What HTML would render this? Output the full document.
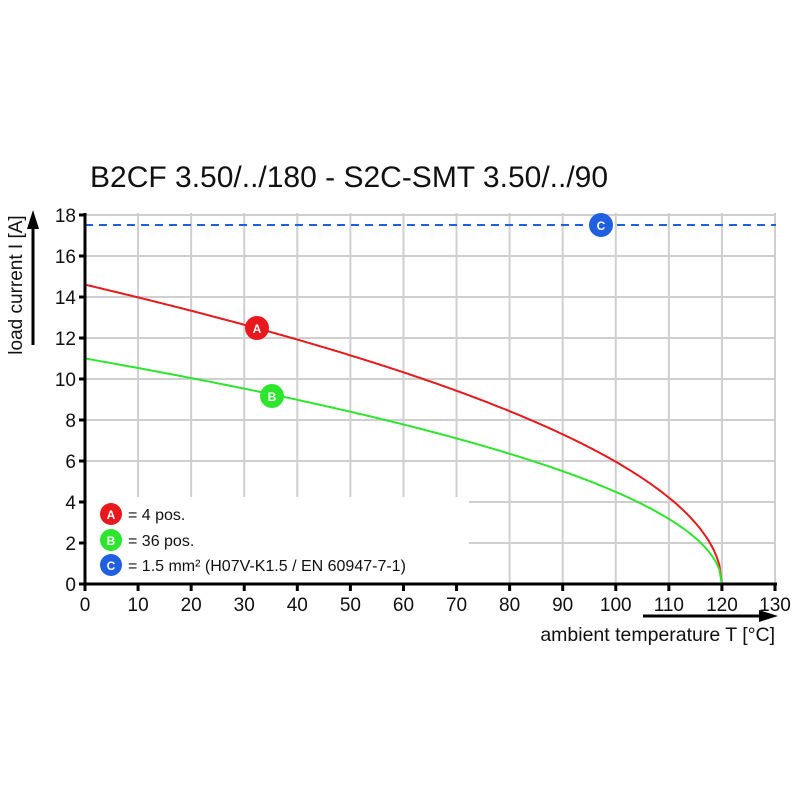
<!DOCTYPE html>
<html><head><style>body{margin:0;background:#fff}svg{display:block}text{font-family:"Liberation Sans",Arial,sans-serif}</style></head>
<body>
<svg id="s" width="800" height="800" xmlns="http://www.w3.org/2000/svg">
<rect width="800" height="800" fill="#fff"/>
<text x="90" y="187" font-size="30" fill="#111">B2CF 3.50/../180 - S2C-SMT 3.50/../90</text>
<g id="grid" stroke="#cfcfcf" stroke-width="2"></g>
<rect x="87" y="497" width="382" height="86" fill="#fff"/>
<line x1="85" y1="225" x2="776" y2="225" stroke="#1f5fe0" stroke-width="2" stroke-dasharray="8,6"/>
<path id="ra" fill="none" stroke="#e8181c" stroke-width="2"/>
<path id="gb" fill="none" stroke="#2ee52e" stroke-width="2"/>
<line x1="85" y1="213" x2="85" y2="585" stroke="#000" stroke-width="3"/>
<line x1="84" y1="584" x2="777" y2="584" stroke="#000" stroke-width="3"/>
<g id="ticks" stroke="#000" stroke-width="3"></g>
<g id="lab" font-size="19" fill="#111"></g>
<line x1="33" y1="345" x2="33" y2="226" stroke="#000" stroke-width="3"/>
<polygon points="33,210 27,229 39,229" fill="#000"/>
<text transform="translate(22,285) rotate(-90)" text-anchor="middle" font-size="19" fill="#111">load current I [A]</text>
<line x1="643" y1="616" x2="762" y2="616" stroke="#000" stroke-width="3"/>
<polygon points="778,616 759,610 759,622" fill="#000"/>
<text x="775" y="641" text-anchor="end" font-size="19.5" fill="#111">ambient temperature T [°C]</text>
<g font-size="12" font-weight="bold" fill="#fff" text-anchor="middle">
<circle cx="257" cy="328" r="12" fill="#e8181c"/><text x="257" y="333">A</text>
<circle cx="272" cy="396" r="12" fill="#2ee52e"/><text x="272" y="401">B</text>
<circle cx="601" cy="225" r="12" fill="#1f5fe0"/><text x="601" y="230">C</text>
<circle cx="111" cy="514" r="11" fill="#e8181c"/><text x="111" y="519">A</text>
<circle cx="111" cy="540" r="11" fill="#2ee52e"/><text x="111" y="545">B</text>
<circle cx="111" cy="565" r="11" fill="#1f5fe0"/><text x="111" y="570">C</text>
</g>
<g font-size="16" fill="#111">
<text x="128" y="520">= 4 pos.</text>
<text x="128" y="546">= 36 pos.</text>
<text x="128" y="571">= 1.5 mm² (H07V-K1.5 / EN 60947-7-1)</text>
</g>
</svg>
<script>
var X=t=>85+t*690/130,Y=v=>584-v*20.5,NS="http://www.w3.org/2000/svg";
function el(p,n,a,t){var e=document.createElementNS(NS,n);for(var k in a)e.setAttribute(k,a[k]);if(t!=null)e.textContent=t;document.getElementById(p).appendChild(e);}
for(var i=1;i<=13;i++)el("grid","line",{x1:X(i*10),y1:213,x2:X(i*10),y2:584});
for(var j=1;j<=9;j++)el("grid","line",{x1:85,y1:Y(j*2),x2:776,y2:Y(j*2)});
for(var i=0;i<=13;i++){el("ticks","line",{x1:X(i*10),y1:584,x2:X(i*10),y2:591});el("lab","text",{x:X(i*10),y:611,"text-anchor":"middle"},i*10);}
for(var j=0;j<=9;j++){el("ticks","line",{x1:79,y1:Y(j*2),x2:85,y2:Y(j*2)});el("lab","text",{x:76,y:Y(j*2)+7,"text-anchor":"end"},j*2);}
function c(a){var d="";for(var t=0;t<=120;t+=0.5){d+=(t?"L":"M")+X(t).toFixed(1)+","+Y(a*Math.sqrt(120-t)).toFixed(1);}return d;}
document.getElementById("ra").setAttribute("d",c(1.333));
document.getElementById("gb").setAttribute("d",c(1.0045));
</script>
</body></html>
